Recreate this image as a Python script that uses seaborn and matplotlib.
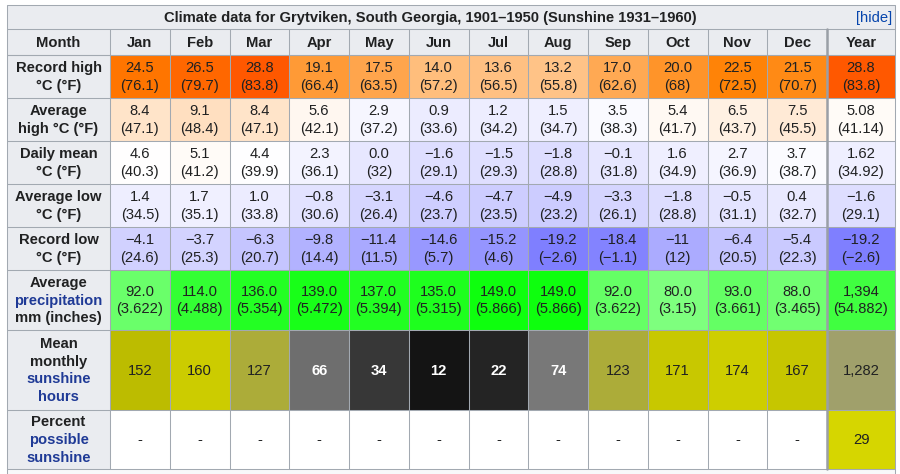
import numpy as np
import pandas as pd
import matplotlib
matplotlib.use("Agg")
import matplotlib.pyplot as plt
import seaborn as sns
from matplotlib.colors import ListedColormap, LinearSegmentedColormap
from matplotlib.patches import Rectangle

# ---------------- data ----------------
title = "Climate data for Grytviken, South Georgia, 1901–1950 (Sunshine 1931–1960)"
columns = ["Jan", "Feb", "Mar", "Apr", "May", "Jun", "Jul", "Aug", "Sep", "Oct", "Nov", "Dec", "Year"]
days = [31, 28, 31, 30, 31, 30, 31, 31, 30, 31, 30, 31, 365]

record_high_c = ["24.5", "26.5", "28.8", "19.1", "17.5", "14.0", "13.6", "13.2", "17.0", "20.0", "22.5", "21.5", "28.8"]
record_high_f = ["76.1", "79.7", "83.8", "66.4", "63.5", "57.2", "56.5", "55.8", "62.6", "68", "72.5", "70.7", "83.8"]
avg_high_c = ["8.4", "9.1", "8.4", "5.6", "2.9", "0.9", "1.2", "1.5", "3.5", "5.4", "6.5", "7.5", "5.08"]
avg_high_f = ["47.1", "48.4", "47.1", "42.1", "37.2", "33.6", "34.2", "34.7", "38.3", "41.7", "43.7", "45.5", "41.14"]
daily_mean_c = ["4.6", "5.1", "4.4", "2.3", "0.0", "-1.6", "-1.5", "-1.8", "-0.1", "1.6", "2.7", "3.7", "1.62"]
daily_mean_f = ["40.3", "41.2", "39.9", "36.1", "32", "29.1", "29.3", "28.8", "31.8", "34.9", "36.9", "38.7", "34.92"]
avg_low_c = ["1.4", "1.7", "1.0", "-0.8", "-3.1", "-4.6", "-4.7", "-4.9", "-3.3", "-1.8", "-0.5", "0.4", "-1.6"]
avg_low_f = ["34.5", "35.1", "33.8", "30.6", "26.4", "23.7", "23.5", "23.2", "26.1", "28.8", "31.1", "32.7", "29.1"]
record_low_c = ["-4.1", "-3.7", "-6.3", "-9.8", "-11.4", "-14.6", "-15.2", "-19.2", "-18.4", "-11", "-6.4", "-5.4", "-19.2"]
record_low_f = ["24.6", "25.3", "20.7", "14.4", "11.5", "5.7", "4.6", "-2.6", "-1.1", "12", "20.5", "22.3", "-2.6"]
precip_mm = [92.0, 114.0, 136.0, 139.0, 137.0, 135.0, 149.0, 149.0, 92.0, 80.0, 93.0, 88.0, 1394]
precip_in = [3.622, 4.488, 5.354, 5.472, 5.394, 5.315, 5.866, 5.866, 3.622, 3.15, 3.661, 3.465, 54.882]
sunshine_hours = [152, 160, 127, 66, 34, 12, 22, 74, 123, 171, 174, 167, 1282]
percent_sunshine = [None, None, None, None, None, None, None, None, None, None, None, None, 29]

K = "#202122"
BL = "#1f3a96"
row_labels = [
    [("Record high", K), ("°C (°F)", K)],
    [("Average", K), ("high °C (°F)", K)],
    [("Daily mean", K), ("°C (°F)", K)],
    [("Average low", K), ("°C (°F)", K)],
    [("Record low", K), ("°C (°F)", K)],
    [("Average", K), ("precipitation", BL), ("mm (inches)", K)],
    [("Mean", K), ("monthly", K), ("sunshine", BL), ("hours", BL)],
    [("Percent", K), ("possible", BL), ("sunshine", BL)],
]

# ---------------- colour scales ----------------
def temp_rgb(t):
    if t <= 4.5:
        v = float(np.clip((t + 42.75) / 47.25, 0, 1))
        return (v, v, 1.0)
    return (float(np.clip((60 - t) / 18.5, 0, 1)),
            float(np.clip((41.5 - t) / 37, 0, 1)),
            float(np.clip((23 - t) / 18.5, 0, 1)))

def rain_rgb(d):
    v = float(np.clip(1 - d / 5.1, 0, 1))
    return (v, 1.0, v)

def sun_rgb(d):
    if d <= 3:
        g = 50 * d / 255
        return (g, g, g)
    rg = min(150 + 20 * (d - 3), 215) / 255
    b = max(0.0, 150 - 85 * (d - 3)) / 255
    return (rg, rg, b)

T_MIN, T_MAX = -45, 45
temp_cmap = ListedColormap([temp_rgb(t) for t in np.linspace(T_MIN, T_MAX, 901)])
rain_cmap = ListedColormap([rain_rgb(d) for d in np.linspace(0, 8, 801)])
sun_cmap = ListedColormap([sun_rgb(d) for d in np.linspace(0, 8, 801)])
pct_cmap = LinearSegmentedColormap.from_list(
    "pct", [(0, "#000000"), (0.15, "#8c8c8c"), (0.29, "#d6d600"), (1, "#ffff80")])

# ---------------- figure ----------------
sns.set_theme(style="white")
plt.rcParams["font.family"] = ["Liberation Sans", "DejaVu Sans"]
W, H = 900, 474
fig = plt.figure(figsize=(9, 4.74), dpi=100)
fig.patch.set_facecolor("white")

XL, XM0, XM1, XR = 7, 110, 827, 895
xe = np.linspace(XM0, XM1, 13)
YT0, YT1, YH1 = 5, 29, 55
row_edges = [55, 98, 141, 184, 227, 270, 330, 410, 469]
FS = 10.6
LH = 17.7            # line height in px
LH_PT = LH * 0.72    # line height in points
GRID = "#a2a9b1"
HEAD_BG = "#eaecf0"

ax_bg = fig.add_axes([0, 0, 1, 1], zorder=0)
ax_bg.set_xlim(0, W)
ax_bg.set_ylim(H, 0)
ax_bg.set_axis_off()
ax_bg.add_patch(Rectangle((XL, YT0), XR - XL, YH1 - YT0, facecolor=HEAD_BG, edgecolor="none"))
ax_bg.add_patch(Rectangle((XL, YH1), XM0 - XL, row_edges[-1] - YH1, facecolor=HEAD_BG, edgecolor="none"))
ax_bg.add_patch(Rectangle((XL, row_edges[-1]), XR - XL, H - row_edges[-1], facecolor="#f8f9fa", edgecolor="none"))

# title & header
ax_bg.text(430, (YT0 + YT1) / 2 + 0.5, title, ha="center", va="center", fontsize=FS,
           fontweight="bold", color=K)
ax_bg.text(XR - 3, (YT0 + YT1) / 2 + 0.5, "[hide]", ha="right", va="center", fontsize=FS, color="#0645ad")
hy = (YT1 + YH1) / 2 + 0.5
ax_bg.text((XL + XM0) / 2, hy, "Month", ha="center", va="center", fontsize=FS, fontweight="bold", color=K)
for j, name in enumerate(columns[:12]):
    ax_bg.text((xe[j] + xe[j + 1]) / 2, hy, name, ha="center", va="center", fontsize=FS,
               fontweight="bold", color=K)
ax_bg.text((XM1 + XR) / 2, hy, columns[12], ha="center", va="center", fontsize=FS, fontweight="bold", color=K)

# row labels
for r, lines in enumerate(row_labels):
    yc = (row_edges[r] + row_edges[r + 1]) / 2 + 0.5
    n = len(lines)
    for k, (s, c) in enumerate(lines):
        ax_bg.text((XL + XM0) / 2, yc + (k - (n - 1) / 2) * LH, s, ha="center", va="center",
                   fontsize=FS, fontweight="bold", color=c)


def add_block(values2d, y0, y1, cmap, vmin, vmax):
    axes = []
    for x0, x1, sl in [(XM0, XM1, slice(0, 12)), (XM1, XR, slice(12, 13))]:
        ax = fig.add_axes([x0 / W, 1 - y1 / H, (x1 - x0) / W, (y1 - y0) / H], zorder=2)
        df = pd.DataFrame(np.asarray(values2d, dtype=float)[:, sl], columns=columns[sl])
        sns.heatmap(df, ax=ax, cmap=cmap, vmin=vmin, vmax=vmax, cbar=False,
                    xticklabels=False, yticklabels=False, linewidths=0)
        ax.set_axis_off()
        axes.append(ax)
    return axes


def cell_text(axes, col, row, lines, color=K, weight="normal"):
    ax = axes[0] if col < 12 else axes[1]
    j = col if col < 12 else 0
    n = len(lines)
    for k, s in enumerate(lines):
        off = ((n - 1) / 2 - k) * LH_PT - 0.4
        ax.annotate(s, (j + 0.5, row + 0.5), xytext=(0, off), textcoords="offset points",
                    ha="center", va="center", fontsize=FS, color=color, fontweight=weight)


def fmt(s):
    return s.replace("-", "\u2212")

# temperature block
temp_c = [record_high_c, avg_high_c, daily_mean_c, avg_low_c, record_low_c]
temp_f = [record_high_f, avg_high_f, daily_mean_f, avg_low_f, record_low_f]
temp_vals = [[float(v) for v in row] for row in temp_c]
axes_t = add_block(temp_vals, row_edges[0], row_edges[5], temp_cmap, T_MIN, T_MAX)
for r in range(5):
    for c in range(13):
        cell_text(axes_t, c, r, [fmt(temp_c[r][c]), "(" + fmt(temp_f[r][c]) + ")"])

# precipitation block (colour by mm per day)
rain_per_day = [[m / d for m, d in zip(precip_mm, days)]]
axes_p = add_block(rain_per_day, row_edges[5], row_edges[6], rain_cmap, 0, 8)
for c in range(13):
    mm = f"{precip_mm[c]:,.0f}" if c == 12 else f"{precip_mm[c]:.1f}"
    cell_text(axes_p, c, 0, [mm, f"({precip_in[c]:g})"])

# sunshine block (colour by hours per day)
sun_per_day = [[h / d for h, d in zip(sunshine_hours, days)]]
axes_s = add_block(sun_per_day, row_edges[6], row_edges[7], sun_cmap, 0, 8)
for c in range(13):
    dark = sun_per_day[0][c] < 2.6
    cell_text(axes_s, c, 0, [f"{sunshine_hours[c]:,}"], color="white" if dark else K,
              weight="bold" if dark else "normal")

# percent possible sunshine block
pct_vals = [[np.nan if v is None else v for v in percent_sunshine]]
axes_c = add_block(pct_vals, row_edges[7], row_edges[8], pct_cmap, 0, 100)
for c in range(13):
    v = percent_sunshine[c]
    cell_text(axes_c, c, 0, ["-" if v is None else f"{v}"])

# grid lines on top
ax_top = fig.add_axes([0, 0, 1, 1], zorder=5)
ax_top.patch.set_alpha(0)
ax_top.set_xlim(0, W)
ax_top.set_ylim(H, 0)
ax_top.set_axis_off()
lw = 0.75
for y in [YT0, YT1, YH1] + row_edges:
    ax_top.plot([XL, XR], [y, y], color=GRID, lw=lw, solid_capstyle="butt")
for x in [XL, XR]:
    ax_top.plot([x, x], [YT0, H], color=GRID, lw=lw)
for x in list(xe[:-1]):
    ax_top.plot([x, x], [YT1, row_edges[-1]], color=GRID, lw=lw)
ax_top.plot([XM1, XM1], [YT1, row_edges[-1]], color="#9a9fa6", lw=1.8)

fig.savefig("out.png", dpi=100, facecolor="white")
